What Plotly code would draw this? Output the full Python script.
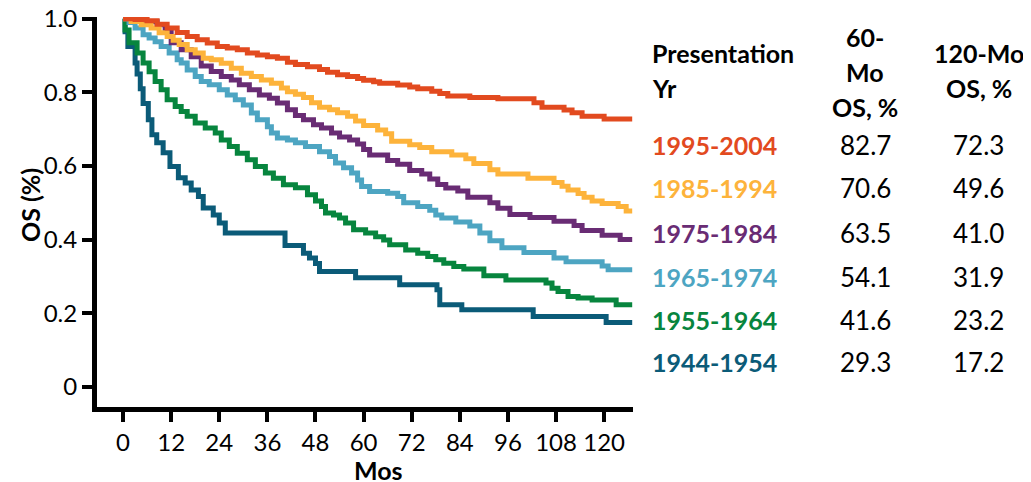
import plotly.graph_objects as go

# ---- data (months, overall survival fraction) ----
groups = ["1995-2004", "1985-1994", "1975-1984", "1965-1974", "1955-1964", "1944-1954"]
os60 = ["82.7", "70.6", "63.5", "54.1", "41.6", "29.3"]
os120 = ["72.3", "49.6", "41.0", "31.9", "23.2", "17.2"]
colors = ["#E24A1F", "#FDB33B", "#692C74", "#4DA5C2", "#07853E", "#0B5B78"]

t_1995 = [0, 3, 6, 8.5, 11, 13.5, 16, 18.5, 21, 23.5, 26, 28.5, 31, 33.5, 36, 38.5, 41, 43, 46, 49,
          51, 53.5, 56, 58.5, 60, 62.5, 64, 68.5, 71.5, 73.5, 77, 79, 81, 86.5, 93.5, 102.5, 104.5,
          110, 112, 114.5, 120, 127]
s_1995 = [1.0, 0.998, 0.995, 0.985, 0.975, 0.963, 0.952, 0.943, 0.934, 0.925, 0.921, 0.916, 0.907,
          0.902, 0.897, 0.893, 0.882, 0.876, 0.870, 0.862, 0.855, 0.848, 0.843, 0.838, 0.833, 0.829,
          0.825, 0.820, 0.815, 0.810, 0.803, 0.797, 0.790, 0.786, 0.783, 0.772, 0.760, 0.752, 0.745,
          0.735, 0.728, 0.728]

t_1985 = [0, 2, 4.5, 7, 9, 11, 12.5, 14, 16, 18, 20, 22, 24.5, 27, 29.5, 32, 34.5, 37, 39.5, 41, 43,
          45, 47, 49, 51.5, 53.5, 56, 58, 60, 63.5, 65.5, 67, 71.5, 74, 77, 82, 85.5, 87.5, 91.5,
          93.5, 101, 107.5, 109.5, 111, 113.5, 115, 117, 119.5, 123.5, 125.5, 127]
s_1985 = [1.0, 0.993, 0.984, 0.975, 0.962, 0.952, 0.942, 0.93, 0.916, 0.907, 0.893, 0.889, 0.879,
          0.866, 0.852, 0.843, 0.834, 0.825, 0.812, 0.802, 0.795, 0.786, 0.772, 0.76, 0.753, 0.745,
          0.735, 0.722, 0.71, 0.698, 0.688, 0.667, 0.658, 0.650, 0.639, 0.630, 0.620, 0.607, 0.590,
          0.578, 0.567, 0.555, 0.545, 0.535, 0.525, 0.515, 0.505, 0.498, 0.49, 0.478, 0.478]

t_1975 = [0, 3, 5.5, 8.5, 10.5, 12, 14.5, 17, 19.5, 22, 24.5, 27, 29, 31.5, 34, 36.5, 38.5, 41, 43, 45,
          47.5, 49.5, 52, 54, 56.5, 58.5, 60, 61.5, 66, 68.5, 71.5, 74.5, 76.5, 78.5, 80.5, 83.5, 86,
          91.5, 93.5, 96.5, 101.5, 107.5, 112.5, 114.5, 119.5, 124, 127]
s_1975 = [1.0, 0.997, 0.992, 0.984, 0.966, 0.935, 0.916, 0.897, 0.872, 0.857, 0.843, 0.834, 0.821,
          0.807, 0.793, 0.784, 0.771, 0.753, 0.737, 0.726, 0.712, 0.703, 0.69, 0.679, 0.671, 0.66,
          0.645, 0.63, 0.615, 0.605, 0.588, 0.578, 0.565, 0.55, 0.54, 0.532, 0.515, 0.5, 0.485, 0.468,
          0.46, 0.45, 0.438, 0.425, 0.412, 0.40, 0.40]

t_1965 = [0, 1.5, 3, 5, 6.5, 8, 9.5, 11.5, 13.5, 14.5, 16, 18, 19.5, 21.5, 24, 26, 28, 30, 32, 33.5,
          36, 37, 38.5, 41, 43, 45.5, 49, 51.5, 53, 55, 57, 58.5, 59.5, 61.5, 66, 68.5, 70, 73.5, 76.5,
          78, 79.5, 83, 86.5, 89, 91.5, 94.5, 100, 107.5, 110.5, 119.5, 121, 127]
s_1965 = [1.0, 0.99, 0.975, 0.957, 0.948, 0.938, 0.925, 0.907, 0.889, 0.88, 0.861, 0.843, 0.83, 0.821,
          0.807, 0.793, 0.78, 0.766, 0.744, 0.726, 0.707, 0.69, 0.676, 0.671, 0.663, 0.653, 0.639,
          0.626, 0.608, 0.595, 0.581, 0.562, 0.544, 0.531, 0.526, 0.517, 0.5, 0.49, 0.48, 0.467,
          0.459, 0.448, 0.437, 0.418, 0.397, 0.378, 0.365, 0.35, 0.34, 0.328, 0.318, 0.318]

t_1955 = [0, 0.5, 1.5, 3.5, 5, 6.5, 8, 9.5, 11, 13, 14.5, 16, 18, 20.5, 23, 24.5, 26.5, 28.5, 31, 33,
          35.5, 37.5, 40, 43, 46, 48, 49.5, 50.5, 52.5, 54, 55.5, 57.5, 60.5, 63, 65, 66.5, 70.5, 73.5,
          76, 78, 80, 82.5, 85, 90, 95.5, 105.5, 107, 108.5, 111, 113.5, 117, 123, 127]
s_1955 = [1.0, 0.97, 0.935, 0.907, 0.88, 0.856, 0.83, 0.807, 0.78, 0.762, 0.748, 0.735, 0.717, 0.703,
          0.69, 0.671, 0.653, 0.635, 0.617, 0.599, 0.581, 0.567, 0.549, 0.541, 0.522, 0.505, 0.49,
          0.472, 0.467, 0.459, 0.445, 0.427, 0.418, 0.408, 0.399, 0.386, 0.372, 0.363, 0.354, 0.345,
          0.336, 0.327, 0.32, 0.302, 0.29, 0.282, 0.268, 0.259, 0.245, 0.241, 0.236, 0.223, 0.223]

t_1944 = [0, 0.5, 1.2, 3, 3.5, 4.3, 5, 6.3, 7.2, 8.4, 10, 11.7, 13.8, 15.5, 17, 18.8, 20, 22.5, 24,
          25.5, 40.4, 45, 46.5, 48, 49, 58, 69, 78.3, 79, 84.5, 102.3, 120.5, 127]
s_1944 = [1.0, 0.965, 0.925, 0.88, 0.85, 0.81, 0.77, 0.726, 0.685, 0.663, 0.636, 0.599, 0.568, 0.554,
          0.535, 0.517, 0.486, 0.467, 0.445, 0.418, 0.384, 0.363, 0.35, 0.335, 0.313, 0.296, 0.277,
          0.264, 0.223, 0.209, 0.191, 0.175, 0.175]

series_t = [t_1995, t_1985, t_1975, t_1965, t_1955, t_1944]
series_s = [s_1995, s_1985, s_1975, s_1965, s_1955, s_1944]

x_ticks = [0, 12, 24, 36, 48, 60, 72, 84, 96, 108, 120]
y_ticks = [0, 0.2, 0.4, 0.6, 0.8, 1.0]
y_ticktext = ["0", "0.2", "0.4", "0.6", "0.8", "1.0"]

# ---- figure ----
OFF = 8  # default page body margin
W, H = 1031 - OFF, 482 - OFF
PLOT_L, PLOT_R, PLOT_T, PLOT_B = 97, 633, 17, 407  # target plot-area edges in page pixels
L, T = PLOT_L - OFF, PLOT_T - OFF
R, B = W + OFF - PLOT_R, H + OFF - PLOT_B
PW, PH = PLOT_R - PLOT_L, PLOT_B - PLOT_T
FONT = "Lato"


def px(xp):
    return (xp - PLOT_L) / PW


def py(yp):
    return (PLOT_B - yp) / PH


fig = go.Figure()
for g, c, tt, ss in list(zip(groups, colors, series_t, series_s))[::-1]:
    fig.add_trace(go.Scatter(x=tt, y=ss, mode="lines", name=g,
                             line=dict(color=c, width=5, shape="hv"),
                             showlegend=False, hoverinfo="skip", cliponaxis=False))

ann = []


def add(text, x, y, color="black", anchor="center", angle=0, size=25):
    ann.append(dict(x=px(x), y=py(y), xref="paper", yref="paper", text=text, showarrow=False,
                    xanchor=anchor, yanchor="middle", textangle=angle,
                    font=dict(size=size, color=color)))


add("<b>OS (%)</b>", 30, 205, angle=-90)
add("<b>Mos</b>", 378, 470)
add("<b>Presentation</b>", 650, 53, anchor="left")
add("<b>Yr</b>", 650, 88, anchor="left")
for txt, yy in [("60-", 37), ("Mo", 72), ("OS, %", 107)]:
    add("<b>%s</b>" % txt, 865, yy)
for txt, yy in [("120-Mo", 53), ("OS, %", 88)]:
    add("<b>%s</b>" % txt, 979, yy)
row_y = [145, 188, 233, 277, 320, 362]
for g, c, a, b, yy in zip(groups, colors, os60, os120, row_y):
    add("<b>%s</b>" % g, 650, yy, color=c, anchor="left")
    add(a, 865, yy, size=26)
    add(b, 978, yy, size=26)

fig.update_layout(
    width=W, height=H,
    margin=dict(l=L, r=R, t=T, b=B, autoexpand=False),
    paper_bgcolor="white", plot_bgcolor="white",
    font=dict(family=FONT, size=24, color="black"),
    annotations=ann,
    xaxis=dict(range=[-6.5, 127.2], tickvals=x_ticks, ticks="outside", ticklen=10, tickwidth=4,
               tickcolor="black", showline=True, linewidth=5, linecolor="black", showgrid=False,
               zeroline=False, tickfont=dict(size=24), automargin=False,
               ticklabeloverflow="allow"),
    yaxis=dict(range=[-0.055, 1.005], tickvals=y_ticks, ticktext=y_ticktext, ticks="outside",
               ticklen=10, tickwidth=4, tickcolor="black", showline=True, linewidth=5,
               linecolor="black", showgrid=False, zeroline=False, tickfont=dict(size=24),
               automargin=False, ticklabeloverflow="allow"),
)

fig.write_html("out.html")
